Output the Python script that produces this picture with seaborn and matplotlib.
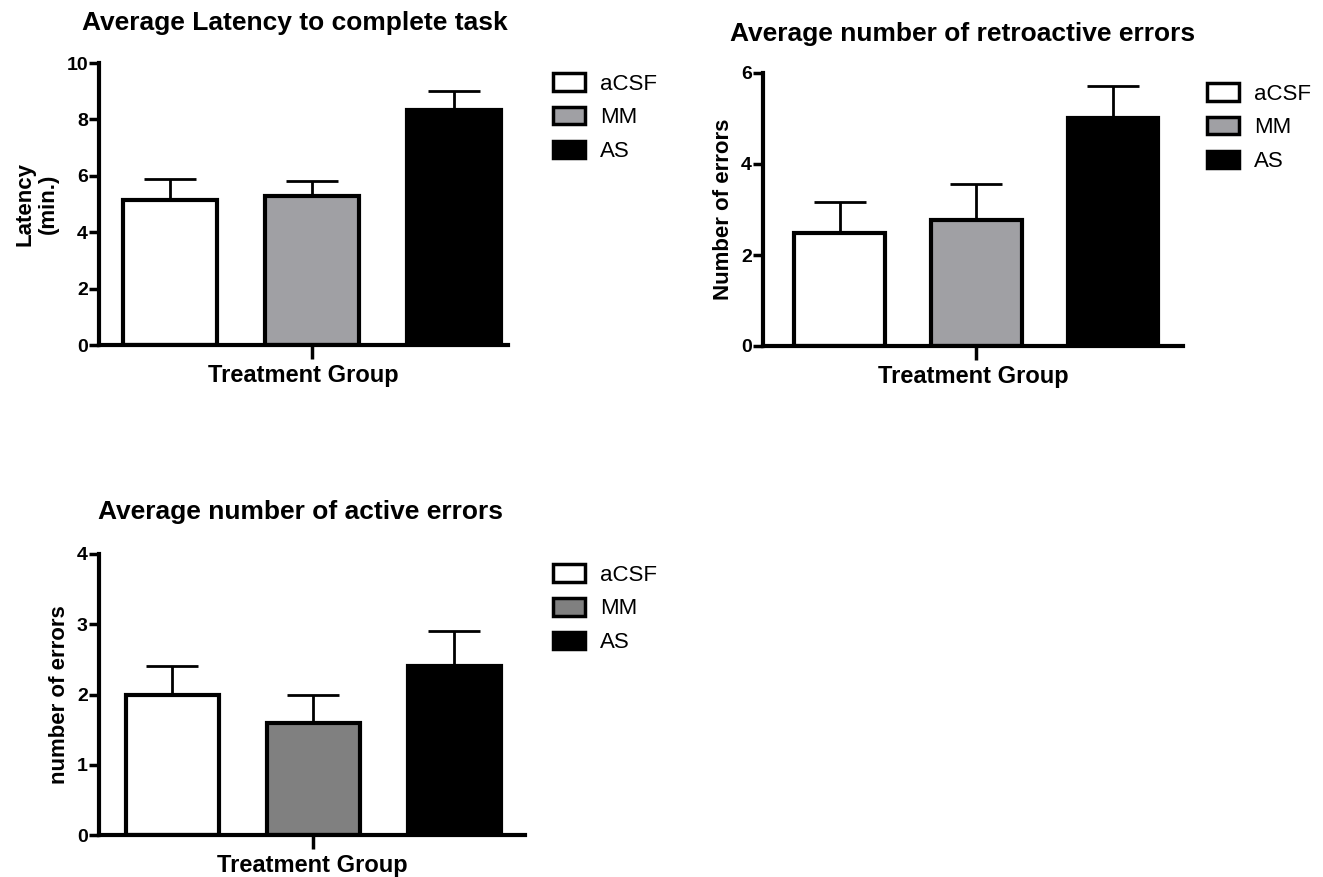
import numpy as np
import pandas as pd
import matplotlib
matplotlib.use("Agg")
import matplotlib.pyplot as plt
import seaborn as sns
from matplotlib.patches import Patch

# data (mean and upper SEM)
groups = ["aCSF", "MM", "AS"]

latency_mean = [5.15, 5.28, 8.35]
latency_sem = [0.75, 0.55, 0.65]

retro_mean = [2.48, 2.78, 5.0]
retro_sem = [0.68, 0.78, 0.72]

active_mean = [2.0, 1.6, 2.4]
active_sem = [0.4, 0.4, 0.5]

colors_top = ["#FFFFFF", "#A0A0A4", "#000000"]
colors_bottom = ["#FFFFFF", "#808080", "#000000"]

sns.set_style("white")
plt.rcParams["font.family"] = ["Liberation Sans", "DejaVu Sans"]
plt.rcParams.update({"text.color": "black", "axes.labelcolor": "black",
                     "xtick.color": "black", "ytick.color": "black"})

W, H = 1323, 877
fig = plt.figure(figsize=(W / 100, H / 100), dpi=100)


def px_axes(left, right, bottom, top):
    return fig.add_axes([left / W, 1 - bottom / H, (right - left) / W, (bottom - top) / H])


def draw_panel(ax, means, sems, colors, ymax, yticks, ylabel, title, xlim, title_x, title_pad):
    df = pd.DataFrame({"group": groups, "value": means})
    sns.barplot(data=df, x="group", y="value", hue="group", palette=colors,
                edgecolor="black", linewidth=3, width=0.66, legend=False,
                saturation=1, ax=ax)
    ax.errorbar(x=np.arange(len(groups)), y=means,
                yerr=[np.zeros(len(sems)), sems], fmt="none",
                ecolor="black", elinewidth=2, capsize=19, capthick=2, zorder=1)
    ax.set_ylim(0, ymax)
    ax.set_xlim(*xlim)
    ax.set_yticks(yticks)
    ax.set_yticklabels([str(t) for t in yticks], fontsize=14, fontweight="bold")
    ax.set_xticks([1])
    ax.set_xticklabels([""])
    ax.tick_params(axis="y", direction="out", length=7, width=2.5, pad=1, left=True)
    ax.tick_params(axis="x", direction="out", length=10, width=2.5, bottom=True)
    for s in ["top", "right"]:
        ax.spines[s].set_visible(False)
    for s in ["left", "bottom"]:
        ax.spines[s].set_linewidth(3)
        ax.spines[s].set_color("black")
    ax.set_xlabel("Treatment Group", fontsize=17, fontweight="bold", labelpad=0)
    ax.set_ylabel(ylabel, fontsize=16, fontweight="bold", labelpad=5)
    ax.set_title(title, fontsize=19, fontweight="bold", pad=title_pad, x=title_x)


def add_legend(colors, x, y):
    handles = [Patch(facecolor=c, edgecolor="black", linewidth=2.5) for c in colors]
    fig.legend(handles, groups, loc="upper left", bbox_to_anchor=(x / W, 1 - y / H),
               frameon=False, fontsize=16, borderpad=0, borderaxespad=0,
               handlelength=1.45, handleheight=0.85, handletextpad=0.65,
               labelspacing=0.55)


ax1 = px_axes(99, 508, 345, 63)
draw_panel(ax1, latency_mean, latency_sem, colors_top, 10, [0, 2, 4, 6, 8, 10],
           "Latency\n(min.)", "Average Latency to complete task", (-0.5, 2.38), 0.479, 24)
add_legend(colors_top, 553, 73)

ax2 = px_axes(763, 1183, 346, 73)
draw_panel(ax2, retro_mean, retro_sem, colors_top, 6, [0, 2, 4, 6],
           "Number of errors", "Average number of retroactive errors", (-0.56, 2.51), 0.476, 23)
add_legend(colors_top, 1207, 83)

ax3 = px_axes(99, 525, 835, 554)
draw_panel(ax3, active_mean, active_sem, colors_bottom, 4, [0, 1, 2, 3, 4],
           "number of errors", "Average number of active errors", (-0.52, 2.5), 0.474, 25)
add_legend(colors_bottom, 553, 564)

fig.savefig("out.png", dpi=100)
